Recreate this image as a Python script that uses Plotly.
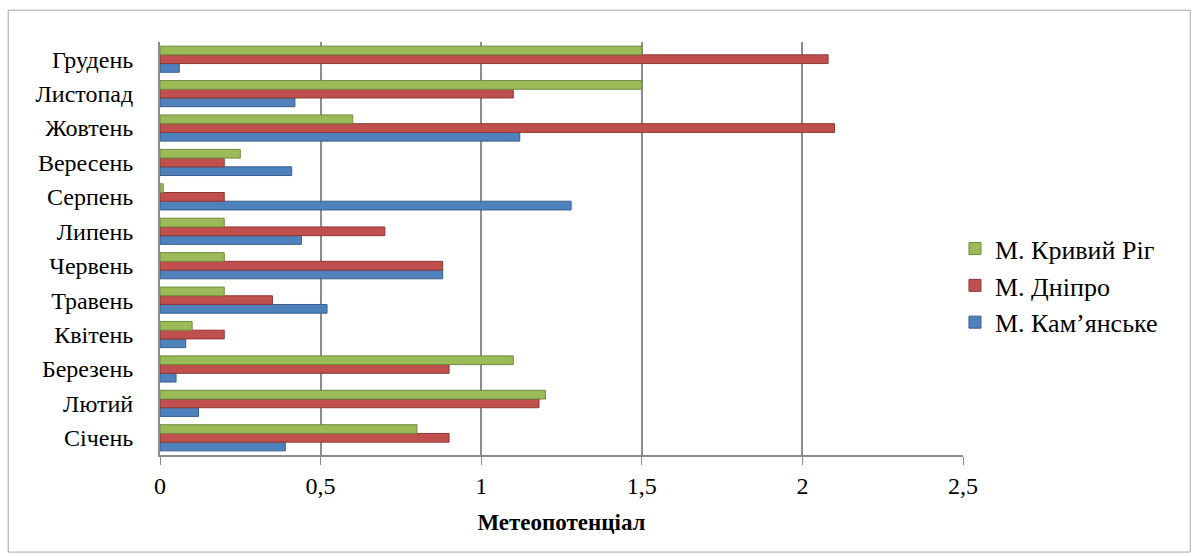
import plotly.graph_objects as go

months = ["Січень", "Лютий", "Березень", "Квітень", "Травень", "Червень",
          "Липень", "Серпень", "Вересень", "Жовтень", "Листопад", "Грудень"]

kamianske = [0.39, 0.12, 0.05, 0.08, 0.52, 0.88, 0.44, 1.28, 0.41, 1.12, 0.42, 0.06]
dnipro = [0.90, 1.18, 0.90, 0.20, 0.35, 0.88, 0.70, 0.20, 0.20, 2.10, 1.10, 2.08]
kryvyi_rih = [0.80, 1.20, 1.10, 0.10, 0.20, 0.20, 0.20, 0.01, 0.25, 0.60, 1.50, 1.50]

x_ticks = [0, 0.5, 1, 1.5, 2, 2.5]
x_tick_labels = ["0", "0,5", "1", "1,5", "2", "2,5"]

series = [
    ("М. Кам’янське", kamianske, "#4F81BD", "#385D8A"),
    ("М. Дніпро", dnipro, "#C0504D", "#8C3836"),
    ("М. Кривий Ріг", kryvyi_rih, "#9BBB59", "#71893F"),
]

FONT = "Liberation Serif"

fig = go.Figure()
for name, vals, fill, edge in series:
    fig.add_trace(go.Bar(
        y=months, x=vals, name=name, orientation="h", legendgroup=name,
        marker=dict(color=fill, line=dict(color=edge, width=1)),
    ))

fig.update_layout(
    width=1194, height=556,
    barmode="group", bargap=0.24, bargroupgap=0.0,
    plot_bgcolor="white", paper_bgcolor="white",
    margin=dict(l=160, r=231, t=42, b=101),
    font=dict(family=FONT, size=24, color="black"),
    legend=dict(
        x=0.99, y=0.41, xanchor="left", yanchor="middle",
        traceorder="reversed", font=dict(family=FONT, size=26),
        itemwidth=30, tracegroupgap=5,
    ),
    xaxis=dict(
        range=[0, 2.5], tickvals=x_ticks, ticktext=x_tick_labels,
        showgrid=True, gridcolor="#8c8c8c", gridwidth=2,
        zeroline=False, showline=True, linecolor="#8c8c8c", linewidth=2,
        ticks="outside", ticklen=8, tickcolor="#8c8c8c",
        ticklabelstandoff=0,
        tickfont=dict(family=FONT, size=24),
        title=dict(text="<b>Метеопотенціал</b>", font=dict(family=FONT, size=23), standoff=16),
    ),
    yaxis=dict(
        range=[-0.5, 11.5], showgrid=False, zeroline=False,
        showline=True, linecolor="#8c8c8c", linewidth=2,
        ticks="", ticklabelstandoff=20,
        tickfont=dict(family=FONT, size=24),
    ),
    shapes=[
        dict(type="rect", xref="paper", yref="paper",
             x0=-0.189, x1=1.283, y0=-0.235, y1=1.077,
             line=dict(color="#a6a6a6", width=1)),
    ],
)

fig.write_html("out.html")
